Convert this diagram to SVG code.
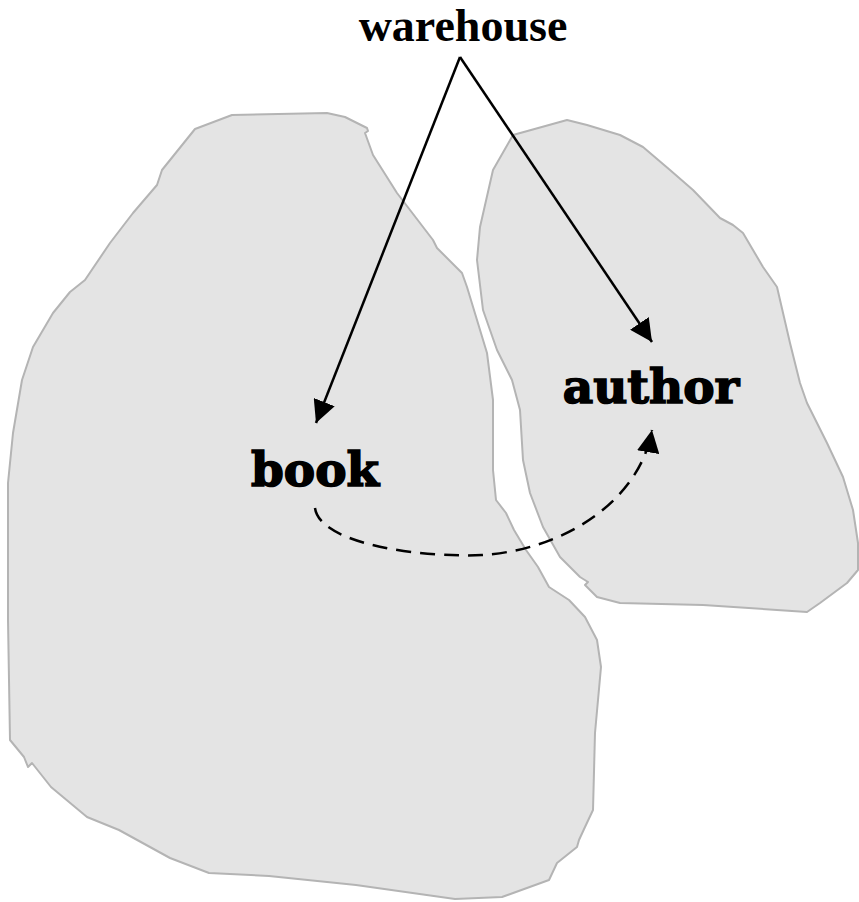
<svg xmlns="http://www.w3.org/2000/svg" width="859" height="902" viewBox="0 0 859 902">
<style>
.region{fill:#e4e4e4;stroke:#b4b4b4;stroke-width:2;stroke-linejoin:round}
.lbl{font-family:"DejaVu Serif",serif;font-weight:bold;font-size:47px;fill:#000;stroke:#000;stroke-width:1.6;text-anchor:middle}
.top{font-family:"Liberation Serif",serif;font-weight:bold;font-size:46px;fill:#000;text-anchor:middle}
.edge{fill:none;stroke:#000;stroke-width:2.5}
.dash{stroke-dasharray:15 9}
</style>
<defs>
<marker id="ah" viewBox="0 0 10 10" refX="10" refY="5" markerWidth="9" markerHeight="9" markerUnits="strokeWidth" orient="auto">
<path d="M0,0 L10,5 L0,10 z" fill="#000"/>
</marker>
</defs>
<rect width="859" height="902" fill="#fff"/>
<g id="book-region">
<path class="region" d="M195,129 L232,115 L327,113 L345,117 L367,128 L368,131 L365,133 L373,155 L397,193 L433,240 L437,248 L462,273 L467,287 L487,353 L493,400 L493,470 L496,500 L506,513 L514,530 L526,550 L538,567 L549,587 L569,600 L585,617 L597,640 L601,667 L595,733 L593,810 L585,827 L579,840 L577,847 L557,863 L549,880 L502,897 L455,899 L356,885 L269,876 L209,873 L170,858 L119,830 L87,817 L51,787 L32,763 L28,767 L24,757 L10,740 L8,620 L8,483 L13,433 L22,380 L33,347 L53,313 L70,292 L85,280 L110,243 L133,213 L157,185 L162,170 Z"/>
</g>
<g id="author-region">
<path class="region" d="M567,120 L587,125 L620,135 L643,147 L670,170 L693,190 L720,218 L733,225 L743,233 L763,267 L777,287 L790,343 L800,383 L807,403 L827,443 L843,477 L853,510 L858,543 L858,570 L847,583 L820,603 L807,612 L703,605 L620,603 L597,597 L585,585 L588,582 L580,577 L560,557 L543,527 L530,493 L523,460 L520,410 L512,380 L497,350 L483,310 L477,260 L480,227 L493,170 L513,135 Z"/>
</g>
<g id="connectors">
<path class="edge" marker-end="url(#ah)" d="M460,57 L316,423"/>
<path class="edge" marker-end="url(#ah)" d="M460,57 L652,342"/>
<path class="edge dash" marker-end="url(#ah)" d="M315,508 C320,545 425,558 482,555 C565,550 640,500 652,430"/>
</g>
<g id="warehouse"><text class="top" x="463" y="41">warehouse</text></g>
<g id="book"><text class="lbl" x="315" y="486">book</text></g>
<g id="author"><text class="lbl" x="651" y="403">author</text></g>
</svg>
